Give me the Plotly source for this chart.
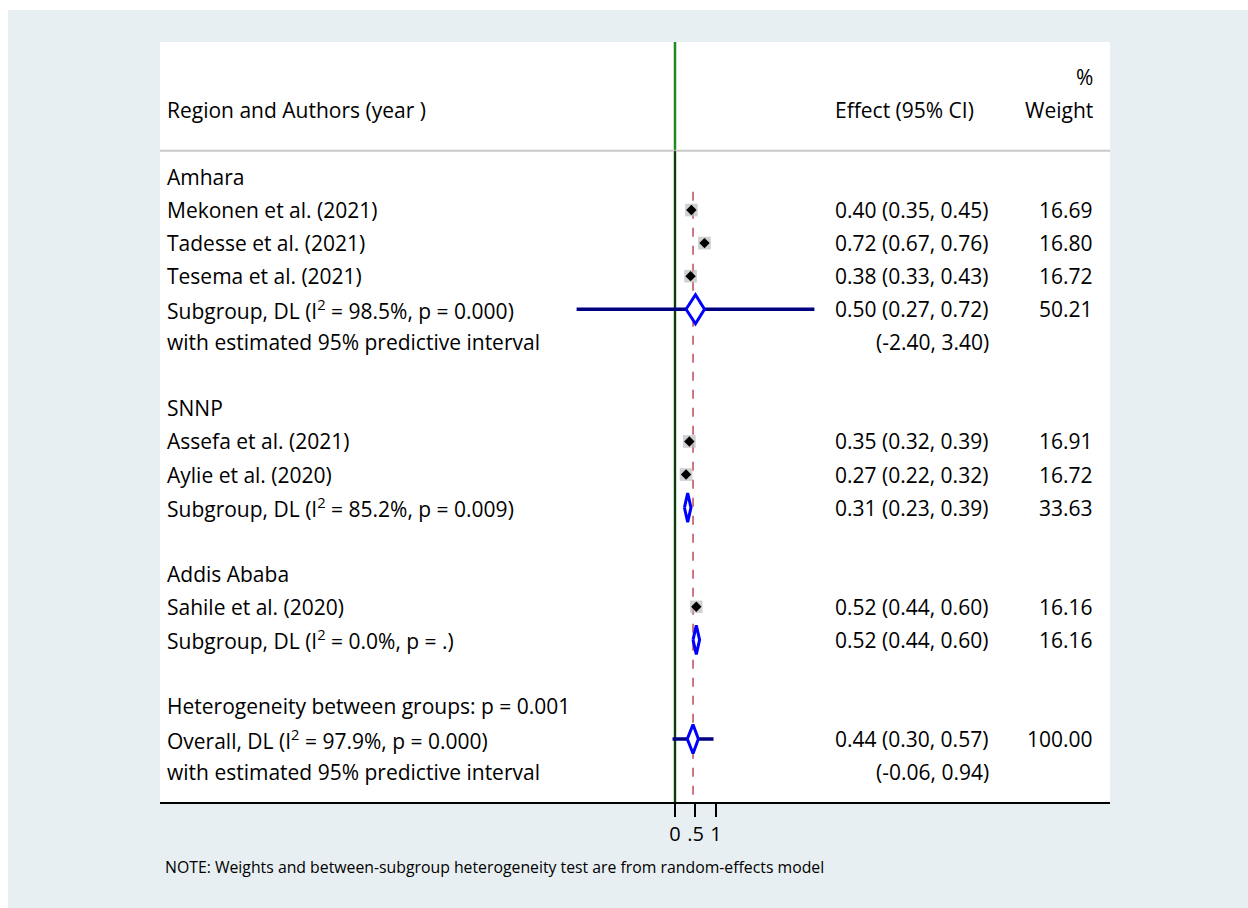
import plotly.graph_objects as go

# ---- data -------------------------------------------------------------
row_labels = [
    "Amhara",
    "Mekonen et al. (2021)",
    "Tadesse et al. (2021)",
    "Tesema et al. (2021)",
    "Subgroup, DL (I<sup>2</sup> = 98.5%, p = 0.000)",
    "with estimated 95% predictive interval",
    "",
    "SNNP",
    "Assefa et al. (2021)",
    "Aylie et al. (2020)",
    "Subgroup, DL (I<sup>2</sup> = 85.2%, p = 0.009)",
    "",
    "Addis Ababa",
    "Sahile et al. (2020)",
    "Subgroup, DL (I<sup>2</sup> = 0.0%, p = .)",
    "",
    "Heterogeneity between groups: p = 0.001",
    "Overall, DL (I<sup>2</sup> = 97.9%, p = 0.000)",
    "with estimated 95% predictive interval",
]

# individual studies
study_rows = [1, 2, 3, 8, 9, 13]
study_es = [0.40, 0.72, 0.38, 0.35, 0.27, 0.52]
study_lci = [0.35, 0.67, 0.33, 0.32, 0.22, 0.44]
study_uci = [0.45, 0.76, 0.43, 0.39, 0.32, 0.60]
study_wt = [16.69, 16.80, 16.72, 16.91, 16.72, 16.16]

# pooled estimates (three subgroups + overall)
pool_rows = [4, 10, 14, 17]
pool_es = [0.50, 0.31, 0.52, 0.44]
pool_lci = [0.27, 0.23, 0.44, 0.30]
pool_uci = [0.72, 0.39, 0.60, 0.57]
pool_wt = [50.21, 33.63, 16.16, 100.00]

# predictive intervals (Amhara subgroup, overall)
pi_rows = [4, 17]
pi_text_rows = [5, 18]
pi_lo = [-2.40, -0.06]
pi_hi = [3.40, 0.94]

overall_es = 0.44
x_ticks = [0, 0.5, 1]
x_ticktext = ["0", ".5", "1"]

# ---- layout constants -------------------------------------------------
FONT = "Open Sans"
FS = 21
X_RANGE = [-12.561, 10.610]
Y_RANGE = [18.905, -4.083]
X_LABEL = 0.0053
X_EFFECT = 0.7084
X_PI = 0.7516
X_WEIGHT = 0.9842
DIAMOND_H = 0.44

fig = go.Figure()

# predictive interval bars
for r, lo, hi in zip(pi_rows, pi_lo, pi_hi):
    fig.add_trace(go.Scatter(x=[lo, hi], y=[r, r], mode="lines",
                             line=dict(color="#000080", width=3.5),
                             hoverinfo="skip", showlegend=False))

# study confidence intervals
for r, lo, hi in zip(study_rows, study_lci, study_uci):
    fig.add_trace(go.Scatter(x=[lo, hi], y=[r, r], mode="lines",
                             line=dict(color="black", width=1),
                             hoverinfo="skip", showlegend=False))

# weight boxes and point estimates
fig.add_trace(go.Scatter(
    x=study_es, y=study_rows, mode="markers",
    marker=dict(symbol="square", size=[3.1 * w ** 0.5 for w in study_wt],
                color="#bcbcbc", line=dict(width=0)),
    hoverinfo="skip", showlegend=False))
fig.add_trace(go.Scatter(
    x=study_es, y=study_rows, mode="markers",
    marker=dict(symbol="diamond", size=8, color="black"),
    hoverinfo="skip", showlegend=False))

# pooled diamonds
for r, es, lo, hi in zip(pool_rows, pool_es, pool_lci, pool_uci):
    fig.add_trace(go.Scatter(
        x=[lo, es, hi, es, lo], y=[r, r - DIAMOND_H, r, r + DIAMOND_H, r],
        mode="lines", fill="toself", fillcolor="white",
        line=dict(color="#0000ff", width=3),
        hoverinfo="skip", showlegend=False))

shapes = []
# null line: green through the header, black through the body
shapes.append(dict(type="line", xref="x", yref="paper", x0=0, x1=0,
                   y0=0, y1=1, line=dict(color="#1f8a1f", width=2.5), layer="below"))
shapes.append(dict(type="line", xref="x", yref="y", x0=0, x1=0,
                   y0=-0.79, y1=Y_RANGE[0], line=dict(color="#102010", width=1.6), layer="below"))
# overall effect line
shapes.append(dict(type="line", xref="x", yref="y", x0=overall_es, x1=overall_es,
                   y0=0.45, y1=Y_RANGE[0],
                   line=dict(color="#b03040", width=1.3, dash="dash"), layer="below"))
# header rule
shapes.append(dict(type="line", xref="paper", yref="y", x0=0, x1=1,
                   y0=-0.79, y1=-0.79, line=dict(color="#c8c8c8", width=2), layer="below"))
# white page edge (top and left)
shapes.append(dict(type="rect", xref="paper", yref="paper", x0=-0.2, x1=1.2,
                   y0=1.0421, y1=1.1, fillcolor="white", line=dict(width=0)))
shapes.append(dict(type="rect", xref="paper", yref="paper", x0=-0.2, x1=-0.16,
                   y0=-0.2, y1=1.1, fillcolor="white", line=dict(width=0)))

ann = []


def txt(x, y, s, align="left"):
    ann.append(dict(x=x, y=y, xref="paper", yref="y", text=s, showarrow=False,
                    xanchor=align, yanchor="middle",
                    font=dict(family=FONT, size=FS, color="black")))


# headers
txt(X_LABEL, -2.03, "Region and Authors (year )")
txt(X_EFFECT, -2.03, "Effect (95% CI)")
txt(X_WEIGHT, -2.03, "Weight", "right")
txt(X_WEIGHT, -3.02, "%", "right")

for i, s in enumerate(row_labels):
    if s:
        txt(X_LABEL, i, s)

for r, es, lo, hi, w in zip(study_rows, study_es, study_lci, study_uci, study_wt):
    txt(X_EFFECT, r, f"{es:.2f} ({lo:.2f}, {hi:.2f})")
    txt(X_WEIGHT, r, f"{w:.2f}", "right")
for r, es, lo, hi, w in zip(pool_rows, pool_es, pool_lci, pool_uci, pool_wt):
    txt(X_EFFECT, r, f"{es:.2f} ({lo:.2f}, {hi:.2f})")
    txt(X_WEIGHT, r, f"{w:.2f}", "right")
for r, lo, hi in zip(pi_text_rows, pi_lo, pi_hi):
    txt(X_PI, r, f"({lo:.2f}, {hi:.2f})")

ann.append(dict(x=0.0032, y=-0.085, xref="paper", yref="paper",
                text="NOTE: Weights and between-subgroup heterogeneity test are from random-effects model",
                showarrow=False, xanchor="left", yanchor="middle",
                font=dict(family=FONT, size=15.8, color="black")))

fig.update_layout(
    width=1248, height=908,
    margin=dict(l=160, r=138, t=42, b=106),
    paper_bgcolor="#e8eff2", plot_bgcolor="white",
    shapes=shapes, annotations=ann, showlegend=False,
    xaxis=dict(range=X_RANGE, tickvals=x_ticks, ticktext=x_ticktext,
               showgrid=False, zeroline=False, showline=True, linecolor="black",
               linewidth=1.5, ticks="outside", ticklen=13, tickwidth=1.5,
               tickcolor="black", tickfont=dict(family=FONT, size=20, color="black"),
               fixedrange=True),
    yaxis=dict(range=Y_RANGE, showgrid=False, zeroline=False, showticklabels=False,
               showline=False, fixedrange=True),
)

fig.write_html("out.html")
